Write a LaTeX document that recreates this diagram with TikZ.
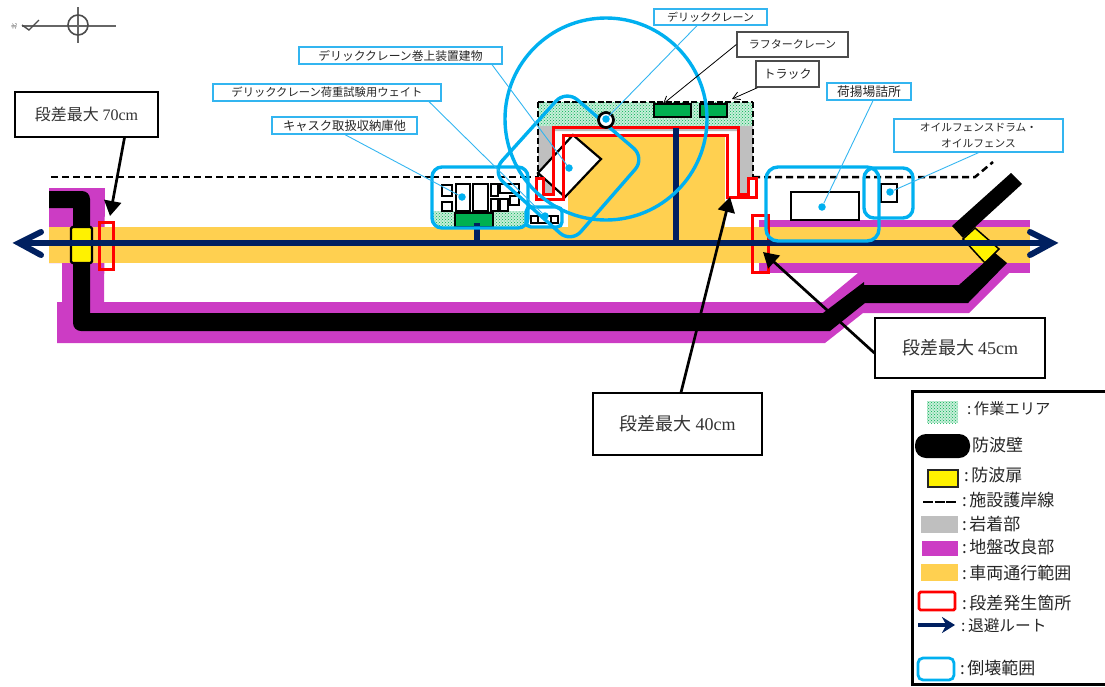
\documentclass[tikz,border=0pt]{standalone}
\usepackage{fontspec}
\setmainfont{Noto Sans CJK JP}
\newfontfamily\latinserif{Liberation Serif}
\usetikzlibrary{patterns,arrows.meta,calc}
\definecolor{cy}{HTML}{00B0F0}
\definecolor{lcy}{HTML}{33B5F0}
\definecolor{purp}{HTML}{CC3CC4}
\definecolor{yel}{HTML}{FFD050}
\definecolor{navy}{HTML}{002060}
\definecolor{grn}{HTML}{00B050}
\definecolor{gry}{HTML}{BFBFBF}
\newcommand{\cosp}{:\hspace{2.5pt}}
\tikzset{
  lbl/.style={draw=lcy,line width=1.3pt,fill=white,inner sep=0pt,align=center,font=\fontsize{11.8}{14}\selectfont,text=black!85},
  glbl/.style={draw=black!70,line width=1.3pt,fill=white,inner sep=0pt,align=center,font=\fontsize{11}{14}\selectfont,text=black!85},
  callout/.style={draw=black,line width=1.2pt,fill=white,inner sep=0pt,text=black!80},
  leader/.style={draw=lcy,line width=0.9pt},
  thinarrow/.style={draw=black,line width=0.8pt,-{Straight Barb[length=7pt,width=8pt]}},
  thickarrow/.style={draw=black,line width=2.7pt,-{Triangle[length=15pt,width=17pt]}},
  dotm/.style={circle,fill=cy,inner sep=0pt,minimum size=7.5pt},
  collapse/.style={draw=cy,line width=3.4pt},
  redz/.style={draw=red,line width=3pt,line join=miter},
  route/.style={draw=navy,line width=6pt},
  crane/.style={draw=black,fill=grn,line width=2.7pt},
  obj/.style={draw=black,fill=white,line width=2.2pt},
  sdash/.style={draw=black,line width=2.5pt,dash pattern=on 7pt off 4pt},
  work/.style={preaction={fill=grn!22},pattern=crosshatch dots,pattern color=grn},
  legtext/.style={anchor=west,inner sep=0pt,font=\fontsize{17}{20}\selectfont,text=black!85},
}
\begin{document}
\begin{tikzpicture}[x=1pt,y=-1pt]
\useasboundingbox (0,0) rectangle (1105,686);
% north mark
\draw[black!60,line width=1.2pt] (22,26)--(116,26) (78,7)--(78,43);
\draw[black!70,line width=1.6pt] (78,25) circle (10);
\draw[black!70,line width=1.4pt] (22,25)--(29,30)--(39,20);
\node[rotate=90,inner sep=0pt,font=\fontsize{6}{6}\selectfont,text=black!70] (north) at (14,26) {北};
% work area base
\fill[work] (538,102) rectangle (753,126);
\fill[gry] (538,126)--(753,126)--(753,177)--(748,177)--(748,194)--(738,194)--(738,131)--(553,131)--(553,194)--(543,194)--(543,178)--(538,178)--cycle;
\fill[yel] (568,137) rectangle (725,228);
% ground improvement
\fill[purp] (49,188)--(105,188)--(104,302)--(823,302)--(858,273)--(1009,273)--(969,313)--(863,313)--(825,343)--(57,343)--(57,302)--(62,302)--(62,263)--(49,263)--cycle;
\fill[purp] (759,220) rectangle (1030,273);
% vehicle band
\fill[yel] (49,227) rectangle (1030,263);
% seawall dashed
\draw[sdash] (51,177)--(538,177);
\draw[sdash] (753,177)--(975,177)--(993,162);
\draw[black,line width=1.1pt,dash pattern=on 6pt off 2.5pt] (538,102)--(753,102);
\draw[black,line width=1.8pt,dash pattern=on 6pt off 3pt] (538,102)--(538,177);
\draw[black,line width=2.5pt,dash pattern=on 6pt off 3pt] (753,102)--(753,177);
% doors and walls
\fill[yellow,draw=black,line width=1.5pt] (975,228)--(999,249)--(985,263)--(963,239)--cycle;
\fill[black] (49,191) [rounded corners=8pt] -- (90,191) [sharp corners] -- (90,313) -- (823,313) -- (864,282) -- (864,285) -- (959,285) -- (995,253) -- (1007,263) -- (968,303) -- (865,303) -- (830,331) [rounded corners=8pt] -- (73,331) [sharp corners] -- (73,208) -- (49,208) -- cycle;
\fill[black] (1011,173)--(1022,184)--(963,238)--(952,226)--cycle;
\draw[fill=yellow,draw=black,line width=2.2pt,rounded corners=1.5pt] (71,227) rectangle (92,263);
% building
\draw[obj] (573,135)--(601,159)--(565,197)--(538,173)--cycle;
% red step zones
\draw[redz] (536,178)--(536,199)--(563,199)--(563,135)--(727,135)--(727,197)--(756,197)--(756,178)--(748,178)--(748,194)--(738,194)--(738,127)--(553,127)--(553,194)--(543,194)--(543,178)--cycle;
\draw[redz] (99,222) rectangle (113,269);
\draw[redz] (752,215) rectangle (768,272);
% evacuation routes
\coordinate (rl) at (19,243);
\coordinate (rr) at (1052,243);
\coordinate (rb1) at (676,128);
\coordinate (rj1) at (676,243);
\coordinate (rb2) at (477,223);
\coordinate (rj2) at (477,243);
\draw[route] (rl)--(rr);
\draw[route] (rb1)--(rj1);
\draw[route,line cap=round,line join=miter] (41,232)--(rl)--(41,255);
\draw[route,line cap=round,line join=miter] (1030,232)--(rr)--(1030,255);
% green machines
\draw[crane] (654,104) rectangle (691,117);
\draw[crane] (700,104) rectangle (727,117);
\coordinate (rafter) at (663,104);
\coordinate (truck) at (732,99);
% storage area
\begin{scope}
\clip[rounded corners=10pt] (432,167) rectangle (528,228);
\fill[white] (432,167) rectangle (528,228);
\fill[work] (432,211) rectangle (528,228);
\draw[sdash] (432,177)--(528,177);
\end{scope}
\foreach \a/\b/\c/\d in {442/185/452/196,442/202/452/211,456/184/470/211,473/184/488/211,491/184/498/196,491/199/498/211,500/199/508/211,500/184/519/193,510/196/519/205}{
  \draw[obj] (\a,\b) rectangle (\c,\d);
}
\draw[crane] (455,213) rectangle (493,227);
\draw[route] (rb2)--(rj2);
% small store
\fill[white] (526,207) rectangle (562,227);
\draw[obj] (531,216) rectangle (558,223);
\draw[obj,line width=1.8pt] (538,216) rectangle (551,223);
% office, drum
\draw[obj] (791,192) rectangle (859,220);
\draw[obj] (881,184) rectangle (897,202);
% collapse ranges
\draw[collapse] (606,119) circle (101);
\draw[collapse,rounded corners=15pt] (566,90)--(645,158)--(571,243)--(492,172)--cycle;
\draw[collapse,rounded corners=10pt] (432,167) rectangle (528,228);
\draw[collapse,rounded corners=5pt] (526,207) rectangle (562,227);
\draw[collapse,rounded corners=12pt] (766,167) rectangle (879,241);
\draw[collapse,rounded corners=10pt] (864,168) rectangle (913,218);
% crane
\node[circle,draw=black,fill=white,line width=2.7pt,minimum size=15pt,inner sep=0pt] (dcrane) at (606,120) {};
% leader dots
\node[dotm] (dbuilding) at (569,168) {};
\node[dotm] (dstore) at (462,197) {};
\node[dotm] (dweight) at (545,216) {};
\node[dotm] (dcr) at (606,119) {};
\node[dotm] (doffice) at (822,207) {};
\node[dotm] (ddrum) at (890,192) {};
% labels
\node[lbl,minimum width=203pt,minimum height=17pt] (l1) at (400.5,55.5) {デリッククレーン巻上装置建物};
\node[lbl,minimum width=228pt,minimum height=17pt,font=\fontsize{11.3}{14}\selectfont] (l2) at (327,92.5) {デリッククレーン荷重試験用ウェイト};
\node[lbl,minimum width=145pt,minimum height=17pt,font=\fontsize{12.3}{14}\selectfont] (l3) at (344.5,125.5) {キャスク取扱収納庫他};
\node[lbl,minimum width=113pt,minimum height=16pt,font=\fontsize{11}{14}\selectfont] (l4) at (710.5,17) {デリッククレーン};
\node[glbl,minimum width=111pt,minimum height=25pt] (l5) at (792.5,44.5) {ラフタークレーン};
\node[glbl,minimum width=63pt,minimum height=26pt,font=\fontsize{12}{14}\selectfont] (l6) at (787.5,74) {トラック};
\node[lbl,minimum width=84pt,minimum height=17pt,font=\fontsize{12.8}{14}\selectfont] (l7) at (869,91.5) {荷揚場詰所};
\node[lbl,minimum width=169pt,minimum height=33pt,font=\fontsize{10.7}{15.5}\selectfont] (l8) at (978.5,135.5) {オイルフェンスドラム・\\オイルフェンス};
% leaders
\draw[leader] ([xshift=91.5pt]l1.south)--(dbuilding);
\draw[leader] ([xshift=102pt]l2.south)--(dweight);
\draw[leader] ([xshift=0.5pt]l3.south)--(dstore);
\draw[leader] ([xshift=-13.5pt]l4.south)--(dcr);
\draw[leader] ([xshift=4pt]l7.south)--(doffice);
\draw[leader] (l8.south)--(ddrum);
\draw[thinarrow] (l5.west)--(rafter);
\draw[thinarrow] ([xshift=-30pt]l6.south)--(truck);
% callouts
\node[callout,minimum width=143pt,minimum height=45pt,font=\fontsize{16}{20}\selectfont] (c70) at (86.5,114.5) {段差最大 {\latinserif 70cm}};
\node[callout,minimum width=170pt,minimum height=60pt,font=\fontsize{18}{20}\selectfont] (c45) at (960,348) {\raisebox{-4pt}{段差最大 {\latinserif 45cm}}};
\node[callout,minimum width=169pt,minimum height=62pt,font=\fontsize{18}{20}\selectfont] (c40) at (677.5,424) {\raisebox{-6pt}{段差最大 {\latinserif 40cm}}};
\coordinate (s70) at (110,216);
\coordinate (s45) at (763,252);
\coordinate (s40) at (730,197);
\draw[thickarrow] ([xshift=38pt]c70.south)--(s70);
\draw[thickarrow] ([yshift=-5pt]c45.west)--(s45);
\draw[thickarrow] ([xshift=3.5pt]c40.north)--(s40);
% legend
\draw[black,line width=3pt] (1110,391)--(912,391)--(912,684)--(1110,684);
\fill[work] (927,401) rectangle (958,423);
\node[legtext,font=\fontsize{15.3}{18}\selectfont] (t1) at (967,409) {\cosp 作業エリア};
\fill[black,rounded corners=11pt] (915,434) rectangle (970,458);
\node[legtext] (t2) at (972,445) {防波壁};
\draw[fill=yellow,draw=black!85,line width=2.2pt] (928,470) rectangle (958,487);
\node[legtext] (t3) at (964,475) {\cosp 防波扉};
\draw[black,line width=2.5pt,dash pattern=on 10pt off 1.5pt] (923,502)--(957,502);
\node[legtext] (t4) at (962,500) {\cosp 施設護岸線};
\fill[gry] (921,516) rectangle (958,533);
\node[legtext] (t5) at (962,524) {\cosp 岩着部};
\fill[purp] (922,541) rectangle (958,556);
\node[legtext] (t6) at (962,547) {\cosp 地盤改良部};
\fill[yel] (921,564) rectangle (958,581);
\node[legtext] (t7) at (962,573) {\cosp 車両通行範囲};
\draw[red,line width=2.8pt,rounded corners=1.5pt] (919,592) rectangle (955,610);
\node[legtext] (t8) at (962,603) {\cosp 段差発生箇所};
\coordinate (la) at (918,625);
\coordinate (lb) at (955,625);
\draw[draw=navy,line width=3.5pt,-{Stealth[length=13pt,width=16pt]}] (la)--(lb);
\node[legtext,font=\fontsize{15.7}{18}\selectfont] (t9) at (961,625) {\cosp 退避ルート};
\draw[cy,line width=2.8pt,rounded corners=5pt] (918,658) rectangle (954,680);
\node[legtext] (t10) at (960,668) {\cosp 倒壊範囲};
\end{tikzpicture}
\end{document}
